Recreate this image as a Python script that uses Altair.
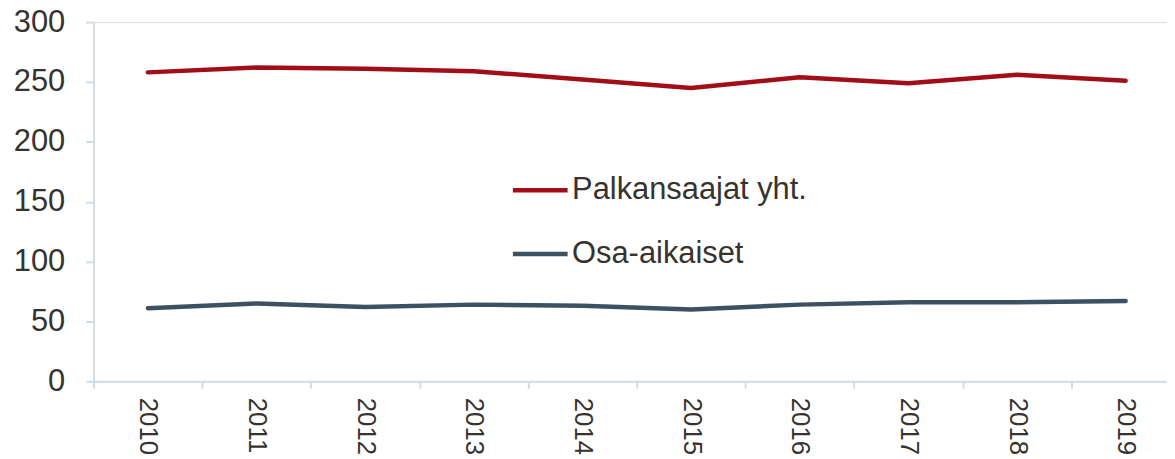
import altair as alt
import pandas as pd

years = [2010, 2011, 2012, 2013, 2014, 2015, 2016, 2017, 2018, 2019]
palkansaajat = [258, 262, 261, 259, 252, 245, 254, 249, 256, 251]
osa_aikaiset = [61, 65, 62, 64, 63, 60, 64, 66, 66, 67]
series_names = ["Palkansaajat yht.", "Osa-aikaiset"]
series_colors = ["#A20E17", "#3C5262"]
y_ticks = [0, 50, 100, 150, 200, 250, 300]

rows = []
for name, vals in zip(series_names, [palkansaajat, osa_aikaiset]):
    for yr, v in zip(years, vals):
        rows.append({"year": yr, "value": v, "series": name})
df = pd.DataFrame(rows)

band_px = 109.2
plot_w = 1079
plot_h = 361
x_min = years[0] - 0.5
x_max = x_min + plot_w / band_px
boundaries = [y - 0.5 for y in years]

font = "Liberation Sans"
axis_col = "#D3DCE0"
text_col = "#36332E"

chart = alt.Chart(df).mark_line(strokeWidth=4.5, strokeCap="round", strokeJoin="round").encode(
    x=alt.X("year:Q",
            scale=alt.Scale(domain=[x_min, x_max], nice=False, zero=False),
            axis=alt.Axis(values=boundaries, labelExpr="format(datum.value + 0.5, 'd')",
                          labelAngle=90, labelOffset=band_px / 2, labelAlign="left",
                          labelBaseline="middle", labelFontSize=26, labelFont=font,
                          labelColor=text_col, tickSize=7, tickColor=axis_col, tickWidth=2,
                          domainColor=axis_col, domainWidth=2, labelPadding=9,
                          grid=False, title=None, labelOverlap=False, labelBound=False)),
    y=alt.Y("value:Q",
            scale=alt.Scale(domain=[0, 300], nice=False),
            axis=alt.Axis(values=y_ticks, labelFontSize=31, labelFont=font, labelColor=text_col,
                          tickSize=8, tickColor=axis_col, tickWidth=2, domainColor=axis_col,
                          domainWidth=2, labelPadding=21, grid=False, title=None)),
    color=alt.Color("series:N",
                    scale=alt.Scale(domain=series_names, range=series_colors),
                    legend=alt.Legend(orient="none", legendX=419, legendY=139, title=None,
                                      symbolType="stroke", symbolSize=3025, symbolStrokeWidth=4.5,
                                      labelFontSize=31, labelFont=font, labelColor=text_col,
                                      labelOffset=2, rowPadding=19, direction="vertical",
                                      labelLimit=0)),
).properties(
    width=plot_w, height=plot_h,
    autosize=alt.AutoSizeParams(type="none"),
    padding={"left": 86, "top": 13, "right": 0, "bottom": 77},
).configure_view(stroke=None).configure(background="white")

chart.save("out.html", embed_options={"renderer": "svg", "actions": False})
